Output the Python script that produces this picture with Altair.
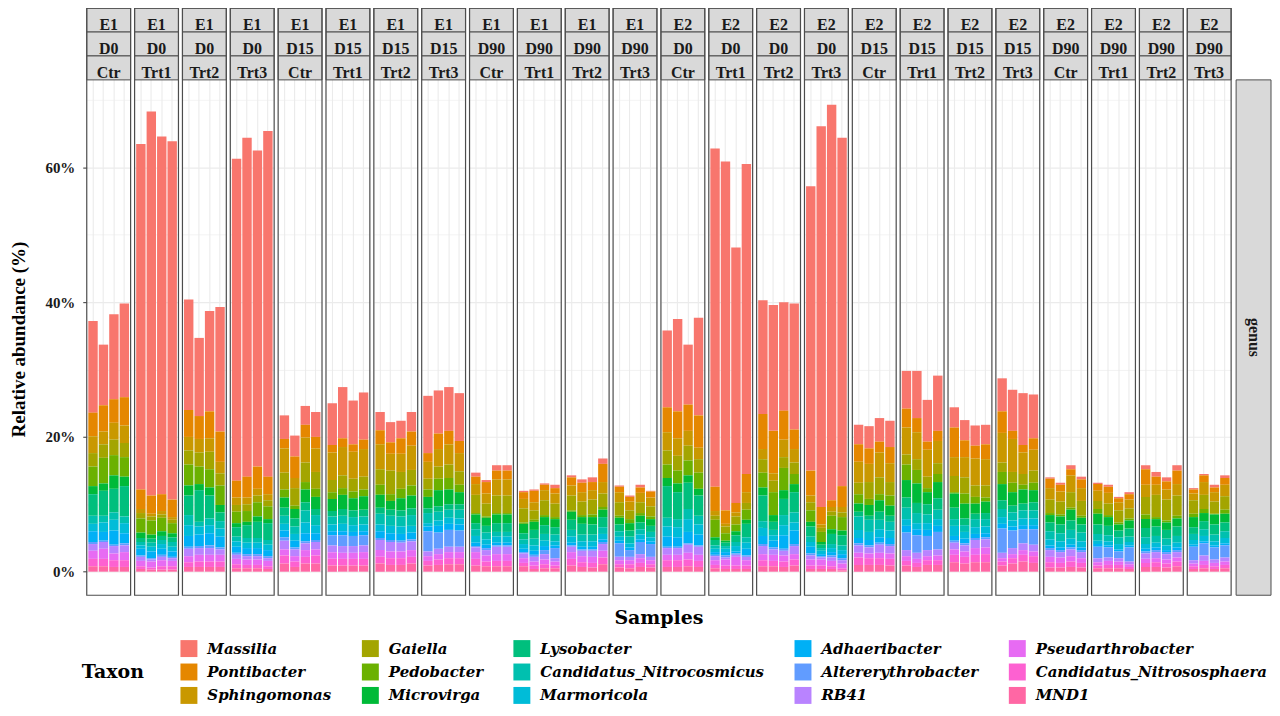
import altair as alt
import pandas as pd

taxa = ["Massilia", "Pontibacter", "Sphingomonas", "Gaiella", "Pedobacter", "Microvirga",
        "Lysobacter", "Candidatus_Nitrocosmicus", "Marmoricola", "Adhaeribacter",
        "Altererythrobacter", "RB41", "Pseudarthrobacter", "Candidatus_Nitrososphaera", "MND1"]
colors = ["#F8766D", "#E58700", "#C99800", "#A3A500", "#6BB100", "#00BA38", "#00BF7D", "#00C0AF",
          "#00BCD8", "#00B0F6", "#619CFF", "#B983FF", "#E76BF3", "#FD61D1", "#FF67A4"]

experiments = ["E1"] * 12 + ["E2"] * 12
days = (["D0"] * 4 + ["D15"] * 4 + ["D90"] * 4) * 2
treatments = ["Ctr", "Trt1", "Trt2", "Trt3"] * 6

# values in %, 24 panels x 4 samples (panel order E1 D0 Ctr ... E2 D90 Trt3)
massilia = [13.6, 9.0, 12.6, 13.9, 51.3, 57.0, 53.1, 53.2, 16.4, 11.6, 14.9, 18.5, 47.8, 50.3, 46.9, 51.3,
            3.5, 3.1, 2.8, 3.7, 6.2, 7.6, 6.5, 7.0, 2.7, 3.0, 2.6, 2.9, 8.5, 6.4, 6.5, 7.1,
            0.6, 0.3, 0.8, 0.8, 0.2, 0.2, 0.2, 0.5, 0.3, 0.5, 0.7, 0.8, 0.2, 0.2, 0.4, 0.1,
            11.4, 13.7, 8.9, 14.5, 50.2, 51.8, 37.9, 46.0, 16.9, 18.7, 16.1, 18.7, 42.2, 56.5, 58.7, 51.7,
            2.9, 3.3, 3.5, 3.9, 5.6, 7.0, 6.2, 8.2, 3.0, 3.0, 3.0, 2.9, 4.9, 6.1, 7.7, 6.5,
            0.2, 0.3, 0.6, 0.4, 0.2, 0.3, 0.2, 0.3, 0.6, 0.7, 0.6, 0.8, 0.2, 0.2, 0.4, 0.4]
pontibacter = [3.5, 3.9, 3.5, 4.2, 2.9, 2.7, 2.5, 2.6, 4.0, 3.4, 4.0, 4.5, 2.5, 3.1, 3.3, 2.6,
               1.4, 3.2, 1.9, 1.7, 1.1, 1.3, 1.1, 1.4, 2.1, 1.7, 2.3, 2.1, 1.3, 2.3, 2.0, 1.8,
               1.1, 1.7, 1.3, 1.3, 1.0, 1.7, 0.8, 0.8, 1.2, 1.4, 1.2, 2.7, 0.8, 0.7, 0.8, 0.9,
               3.7, 4.0, 3.9, 4.8, 3.6, 2.0, 1.4, 2.7, 5.2, 6.3, 4.3, 2.9, 3.7, 2.6, 1.0, 3.1,
               2.6, 2.3, 1.6, 2.4, 2.8, 2.1, 1.2, 1.5, 4.4, 2.5, 1.9, 2.2, 3.2, 1.2, 1.1, 1.7,
               1.4, 1.0, 0.9, 1.3, 1.0, 0.9, 0.6, 0.8, 2.3, 1.2, 1.2, 2.0, 0.6, 1.0, 0.7, 1.0]
sphingomonas = [2.5, 1.9, 2.5, 2.6, 0.6, 0.4, 0.5, 0.4, 2.0, 2.0, 2.0, 1.7, 1.1, 1.0, 1.0, 0.9,
                3.6, 1.5, 3.7, 3.5, 4.1, 4.2, 4.0, 4.1, 3.7, 2.5, 2.7, 3.6, 2.5, 2.6, 3.0, 2.7,
                1.6, 1.5, 2.4, 2.4, 1.4, 1.2, 1.5, 1.5, 1.5, 1.4, 1.4, 1.7, 1.5, 1.3, 1.4, 1.3,
                2.7, 2.6, 2.2, 1.7, 0.7, 0.4, 0.6, 1.6, 1.5, 1.1, 2.6, 2.0, 1.0, 0.5, 0.7, 0.8,
                3.1, 2.7, 3.7, 2.8, 4.0, 4.0, 4.0, 3.3, 2.8, 3.0, 4.0, 3.9, 4.4, 4.9, 3.2, 3.1,
                1.7, 1.5, 2.5, 1.9, 1.5, 1.6, 1.2, 1.3, 1.8, 1.5, 1.5, 1.7, 1.0, 1.9, 1.4, 1.7]
gaiella = [2.0, 2.0, 2.3, 2.1, 0.8, 0.6, 0.5, 0.5, 2.1, 2.1, 2.6, 1.8, 1.0, 1.0, 1.0, 0.9,
           2.5, 2.6, 2.9, 2.5, 1.8, 1.9, 1.9, 1.9, 2.3, 3.5, 2.5, 2.3, 1.6, 1.8, 2.0, 2.0,
           2.7, 1.9, 2.6, 2.6, 2.1, 1.4, 2.2, 2.0, 2.2, 2.0, 2.2, 2.0, 2.0, 1.3, 1.6, 1.5,
           2.1, 2.2, 2.2, 2.0, 0.6, 1.0, 1.2, 1.0, 2.0, 1.7, 1.6, 1.7, 1.2, 0.6, 0.6, 0.7,
           1.7, 2.5, 2.5, 2.0, 1.5, 1.6, 1.7, 1.6, 2.4, 2.4, 1.7, 1.8, 1.4, 1.6, 1.6, 1.8,
           2.0, 1.9, 2.3, 2.2, 1.2, 1.7, 1.8, 1.5, 2.6, 3.3, 3.1, 3.0, 2.0, 2.1, 1.8, 2.0]
pedobacter = [2.9, 3.8, 3.0, 2.9, 2.1, 2.1, 2.0, 1.5, 3.1, 2.6, 2.7, 2.9, 1.7, 1.6, 2.1, 1.9,
              1.2, 0.5, 1.1, 1.2, 1.0, 1.0, 1.0, 1.0, 1.5, 1.0, 1.4, 1.5, 1.1, 1.7, 1.7, 1.1,
              0.2, 0.2, 0.2, 0.2, 0.2, 0.3, 0.3, 0.3, 0.2, 0.3, 0.4, 0.4, 0.3, 0.6, 0.4, 0.4,
              2.0, 1.9, 2.2, 2.4, 2.6, 1.1, 1.0, 1.5, 2.2, 3.4, 3.3, 1.5, 1.7, 1.5, 2.0, 2.0,
              1.4, 0.9, 0.9, 1.5, 2.3, 2.0, 0.6, 1.2, 0.2, 1.5, 1.0, 0.6, 1.8, 1.4, 0.7, 1.1,
              0.3, 0.3, 0.3, 0.3, 0.7, 0.3, 0.3, 0.3, 0.7, 0.3, 0.3, 0.4, 0.5, 0.6, 0.1, 0.6]
microvirga = [1.2, 1.1, 2.0, 1.4, 0.8, 0.6, 0.7, 0.6, 1.5, 0.9, 1.2, 1.1, 0.6, 0.5, 0.8, 0.6,
              1.5, 1.4, 1.9, 1.8, 1.8, 2.1, 1.8, 2.0, 1.9, 1.3, 1.8, 1.9, 1.7, 2.4, 2.2, 1.8,
              1.3, 1.2, 1.3, 1.3, 1.4, 1.2, 1.2, 1.2, 1.2, 1.0, 1.1, 1.1, 1.0, 1.1, 1.0, 1.0,
              1.2, 1.3, 1.1, 1.0, 0.4, 0.3, 0.6, 0.6, 1.2, 1.0, 1.3, 1.2, 0.7, 0.4, 0.7, 0.7,
              1.2, 1.6, 1.7, 1.5, 2.6, 2.9, 1.8, 2.4, 2.1, 2.2, 1.5, 1.7, 2.4, 2.0, 2.1, 1.8,
              1.1, 1.2, 1.6, 1.0, 1.6, 1.3, 0.9, 1.2, 1.3, 1.1, 1.1, 1.2, 1.5, 1.2, 1.5, 1.3]
lysobacter = [3.2, 3.7, 3.5, 4.5, 0.6, 0.6, 0.6, 0.7, 2.9, 4.7, 3.4, 1.3, 1.4, 1.9, 2.4, 2.5,
              1.2, 1.2, 1.2, 0.9, 0.8, 1.0, 1.0, 1.0, 0.9, 0.9, 0.9, 1.0, 0.7, 0.8, 0.8, 0.8,
              0.9, 1.0, 1.3, 1.3, 0.9, 1.3, 1.3, 1.1, 1.5, 1.6, 1.5, 1.5, 1.0, 0.9, 1.0, 0.9,
              4.7, 4.0, 3.9, 3.0, 0.8, 0.5, 1.0, 2.0, 3.8, 1.2, 2.4, 3.0, 1.5, 0.5, 1.5, 1.5,
              0.7, 0.6, 1.2, 0.9, 1.5, 1.5, 1.5, 1.7, 1.7, 1.0, 0.8, 0.9, 1.3, 1.0, 1.0, 1.2,
              1.3, 1.3, 1.4, 1.2, 1.4, 1.4, 1.0, 1.2, 1.4, 1.4, 1.3, 1.4, 1.0, 1.2, 1.5, 1.3]
nitrocosmicus = [1.2, 1.0, 1.1, 1.0, 0.5, 0.6, 0.6, 0.7, 1.5, 0.7, 1.0, 1.1, 0.7, 0.7, 0.7, 0.7,
                 1.2, 1.1, 1.8, 1.5, 1.2, 1.2, 1.2, 1.2, 1.6, 1.5, 1.5, 1.6, 1.5, 1.3, 1.2, 1.3,
                 1.0, 1.0, 0.7, 0.7, 0.7, 1.0, 1.0, 1.0, 1.0, 1.0, 1.0, 1.0, 0.8, 1.0, 0.8, 0.8,
                 1.3, 1.2, 1.5, 1.3, 0.5, 0.4, 0.6, 0.8, 1.0, 0.8, 1.5, 1.5, 0.8, 0.4, 0.6, 0.7,
                 2.0, 1.8, 1.4, 1.3, 1.7, 1.5, 1.3, 1.4, 1.0, 1.0, 1.2, 1.1, 1.2, 1.2, 1.2, 1.2,
                 1.2, 1.2, 1.3, 1.3, 1.0, 0.9, 1.0, 0.8, 1.0, 1.0, 1.0, 1.0, 0.9, 1.0, 1.0, 1.0]
marmoricola = [1.1, 1.4, 1.6, 1.5, 0.5, 0.7, 0.7, 0.7, 1.6, 1.2, 1.2, 1.2, 0.8, 0.8, 0.8, 0.8,
               1.0, 1.0, 1.6, 1.2, 1.0, 1.1, 1.0, 1.0, 1.0, 1.1, 1.1, 1.0, 0.5, 0.8, 0.9, 0.9,
               1.0, 0.8, 0.9, 0.9, 0.7, 0.8, 0.8, 0.6, 0.9, 0.8, 0.8, 0.8, 0.6, 0.6, 0.7, 0.6,
               1.5, 1.5, 1.9, 1.5, 0.5, 0.5, 0.8, 0.9, 1.2, 0.8, 1.5, 1.2, 0.7, 0.5, 0.6, 0.6,
               1.2, 1.2, 1.2, 1.1, 1.0, 0.9, 1.0, 1.0, 1.5, 1.0, 1.0, 1.0, 1.0, 0.9, 1.0, 1.0,
               0.9, 0.9, 0.9, 0.9, 0.5, 0.6, 0.8, 0.5, 0.7, 0.7, 0.7, 0.7, 0.7, 0.8, 0.6, 0.8]
adhaeribacter = [1.6, 1.3, 2.1, 1.5, 1.0, 1.0, 0.9, 0.8, 1.6, 1.7, 1.8, 1.6, 0.9, 0.9, 0.9, 0.9,
                 1.0, 1.0, 1.2, 1.0, 0.6, 0.6, 0.6, 0.6, 1.0, 1.0, 1.0, 1.0, 0.7, 1.0, 0.9, 0.9,
                 0.5, 0.5, 0.4, 0.4, 0.5, 0.6, 0.6, 0.4, 0.4, 0.4, 0.4, 0.4, 0.4, 0.4, 0.4, 0.4,
                 1.5, 1.4, 1.7, 1.6, 0.4, 0.5, 0.3, 1.0, 1.2, 1.0, 2.0, 2.0, 1.0, 0.3, 0.5, 0.6,
                 0.8, 0.8, 0.8, 0.9, 1.0, 0.9, 0.9, 0.9, 0.7, 0.7, 0.6, 0.6, 0.7, 0.6, 0.6, 0.6,
                 0.4, 0.4, 0.4, 0.4, 0.4, 0.3, 0.3, 0.3, 0.4, 0.4, 0.3, 0.4, 0.3, 0.3, 0.3, 0.3]
altererythrobacter = [0.3, 0.2, 0.2, 0.3, 0.2, 0.2, 0.3, 0.2, 0.3, 0.3, 0.4, 0.3, 0.3, 0.3, 0.3, 0.3,
                      0.5, 0.3, 0.3, 0.3, 1.5, 1.6, 1.5, 1.5, 0.3, 0.3, 0.3, 0.3, 3.0, 2.4, 2.5, 2.4,
                      0.2, 0.3, 0.2, 0.2, 0.2, 0.3, 0.6, 1.5, 0.2, 0.2, 0.2, 0.3, 2.0, 1.0, 1.8, 1.9,
                      0.2, 0.2, 0.2, 0.2, 0.2, 0.3, 0.2, 0.2, 0.3, 0.3, 0.3, 0.3, 0.3, 0.2, 0.3, 0.3,
                      0.3, 0.3, 0.3, 0.3, 2.6, 2.6, 2.1, 2.6, 0.3, 0.3, 0.3, 0.3, 3.6, 2.6, 2.1, 2.3,
                      0.3, 0.3, 0.3, 0.3, 1.7, 1.5, 1.0, 2.1, 0.3, 0.3, 0.3, 0.3, 2.0, 1.8, 1.8, 1.8]
rb41 = [1.0, 1.0, 1.1, 1.0, 0.6, 0.3, 0.5, 0.4, 1.1, 1.0, 1.0, 0.8, 0.6, 0.5, 0.5, 0.4,
        1.3, 1.0, 1.0, 1.1, 1.0, 1.0, 1.0, 1.0, 1.5, 1.4, 1.3, 1.3, 0.7, 0.8, 0.8, 0.8,
        0.7, 0.8, 1.1, 1.1, 0.7, 0.7, 0.8, 0.5, 0.8, 0.8, 0.9, 1.0, 0.5, 0.5, 0.6, 0.5,
        1.0, 1.0, 1.2, 1.2, 0.6, 0.3, 0.3, 0.5, 1.2, 0.8, 0.7, 1.2, 0.6, 0.3, 0.5, 0.5,
        1.1, 0.9, 1.2, 1.1, 0.9, 0.9, 0.9, 0.9, 1.0, 0.9, 1.2, 1.2, 0.8, 0.9, 1.0, 1.0,
        1.0, 0.8, 1.0, 0.9, 0.6, 0.5, 0.5, 0.4, 0.8, 0.9, 0.8, 0.8, 0.5, 0.8, 0.5, 0.6]
pseudarthrobacter = [1.2, 1.5, 1.0, 1.2, 0.8, 0.9, 0.9, 0.8, 0.9, 1.0, 1.0, 1.0, 0.8, 0.8, 0.8, 0.8,
                     0.9, 0.8, 1.0, 0.9, 1.0, 0.9, 0.9, 1.0, 1.0, 1.0, 1.0, 1.0, 0.7, 0.8, 0.9, 0.9,
                     1.0, 0.9, 1.0, 1.0, 0.7, 0.6, 0.7, 0.6, 1.0, 0.9, 0.9, 1.0, 0.6, 0.6, 0.7, 0.6,
                     0.8, 0.8, 1.0, 0.9, 0.7, 0.9, 1.3, 0.8, 0.9, 0.9, 0.9, 0.8, 0.9, 0.9, 0.8, 0.7,
                     0.7, 0.7, 0.8, 0.8, 0.7, 0.6, 0.6, 0.7, 0.8, 0.8, 1.0, 1.0, 0.5, 0.6, 0.7, 0.7,
                     0.8, 0.8, 0.8, 0.7, 0.5, 0.6, 0.5, 0.4, 0.6, 0.6, 0.6, 0.6, 0.4, 0.6, 0.5, 0.5]
nitrososphaera = [1.1, 1.1, 1.0, 1.0, 0.4, 0.3, 0.5, 0.5, 0.7, 0.8, 0.8, 0.8, 0.6, 0.5, 0.5, 0.4,
                  1.2, 0.8, 1.0, 1.2, 1.0, 1.0, 1.0, 1.0, 1.0, 1.0, 1.0, 1.0, 0.7, 0.8, 0.9, 0.9,
                  1.0, 0.7, 0.8, 0.8, 0.5, 0.5, 0.6, 0.4, 1.0, 0.7, 0.7, 1.0, 0.5, 0.6, 0.6, 0.5,
                  1.0, 1.0, 1.0, 0.9, 0.5, 0.5, 0.5, 0.5, 0.9, 0.8, 0.8, 0.9, 0.5, 0.5, 0.4, 0.3,
                  1.1, 1.0, 1.0, 1.0, 0.7, 0.6, 0.7, 0.7, 1.1, 1.0, 1.1, 1.2, 0.6, 0.8, 1.0, 1.0,
                  0.8, 0.7, 0.8, 0.7, 0.4, 0.5, 0.5, 0.3, 0.6, 0.7, 0.6, 0.7, 0.4, 0.5, 0.4, 0.5]
mnd1 = [0.8, 0.8, 0.7, 0.7, 0.4, 0.3, 0.3, 0.3, 0.7, 0.7, 0.7, 0.7, 0.5, 0.5, 0.5, 0.4,
        1.2, 0.7, 1.2, 1.2, 0.9, 0.9, 0.9, 0.9, 1.2, 1.0, 1.0, 1.2, 0.9, 1.0, 1.1, 1.1,
        0.9, 0.8, 0.8, 0.8, 0.8, 0.4, 0.5, 0.5, 0.9, 0.7, 0.6, 1.1, 0.6, 0.5, 0.7, 0.6,
        0.7, 0.7, 0.8, 0.7, 0.5, 0.4, 0.4, 0.4, 0.8, 0.8, 0.7, 0.9, 0.4, 0.4, 0.4, 0.2,
        1.0, 1.0, 1.0, 0.9, 0.9, 0.7, 1.0, 1.0, 1.4, 1.2, 1.4, 1.4, 0.9, 1.2, 1.5, 1.3,
        0.6, 0.6, 0.7, 0.6, 0.5, 0.5, 0.5, 0.4, 0.7, 0.7, 0.6, 0.8, 0.4, 0.5, 0.4, 0.5]

series = [massilia, pontibacter, sphingomonas, gaiella, pedobacter, microvirga, lysobacter,
          nitrocosmicus, marmoricola, adhaeribacter, altererythrobacter, rb41,
          pseudarthrobacter, nitrososphaera, mnd1]

x_title = "Samples"

rows = []
panel_ids = []
for p in range(24):
    pid = f"{p:02d}"
    panel_ids.append(pid)
    for b in range(4):
        for t, name in enumerate(taxa):
            rows.append({"panel": pid, "E": experiments[p], "D": days[p], "T": treatments[p],
                         "bar": b + 1, "Taxon": name, "rank": t,
                         "value": series[t][p * 4 + b], "xtitle": x_title})
df = pd.DataFrame(rows)

FONT = "Liberation Serif"
WIDE = "DejaVu Serif"
W, H = 44, 589
BORDER = "#4D4D4D"
ONE_PER_PANEL = "datum.bar == 1 && datum.rank == 0"

bars = alt.Chart().mark_bar().encode(
    x=alt.X("bar:O",
            scale=alt.Scale(paddingInner=0.1, paddingOuter=0.15),
            axis=alt.Axis(title="", labels=False, ticks=False, domain=False, grid=True,
                          gridColor="#EBEBEB", gridWidth=1.1, bandPosition=0.5)),
    y=alt.Y("value:Q", stack="zero",
            scale=alt.Scale(domain=[-3.5, 73], range=[H, 72], nice=False, zero=False),
            axis=alt.Axis(title="Relative abundance (%)", values=[0, 10, 20, 30, 40, 50, 60, 70],
                          labelExpr="datum.value % 20 === 0 ? datum.value + '%' : ''",
                          domain=False, tickSize=4, tickColor="#333333",
                          tickOpacity={"condition": {"test": "datum.value % 20 === 0", "value": 1}, "value": 0},
                          gridColor="#EBEBEB",
                          gridWidth={"condition": {"test": "datum.value % 20 === 0", "value": 1.2}, "value": 0.6},
                          labelFont=FONT, labelFontSize=15, labelFontWeight="bold", labelColor="#1a1a1a",
                          labelPadding=8, titleFont=FONT, titleFontSize=19, titleFontWeight="bold",
                          titleColor="black", titlePadding=16, titleY=332)),
    color=alt.Color("Taxon:N",
                    scale=alt.Scale(domain=taxa, range=colors),
                    legend=alt.Legend(orient="none", legendX=-5, legendY=634, columns=5,
                                      title="Taxon", titleOrient="left", titleAnchor="middle",
                                      titleFont=WIDE, titleFontSize=19, titleFontWeight="bold",
                                      titleColor="black", titlePadding=36,
                                      labelFont=WIDE, labelFontSize=15, labelFontStyle="italic",
                                      labelFontWeight="bold", labelColor="black", labelLimit=400,
                                      symbolType="square", symbolSize=289, symbolStrokeWidth=0,
                                      symbolOpacity=1, rowPadding=6.5, columnPadding=30,
                                      labelOffset=10)),
    order=alt.Order("rank:Q", sort="descending"),
)

layers = [bars]
for field, y0 in (("E", 0), ("D", 24), ("T", 48)):
    base = alt.Chart().transform_filter(ONE_PER_PANEL)
    layers.append(base.mark_rect(fill="#D9D9D9", stroke=BORDER, strokeWidth=1).encode(
        x=alt.value(0), x2=alt.value(W), y=alt.value(y0), y2=alt.value(y0 + 24)))
    layers.append(base.mark_text(font=FONT, fontSize=16, fontWeight="bold", color="#1a1a1a",
                                 align="center", baseline="alphabetic").encode(
        x=alt.value(W / 2), y=alt.value(y0 + 22), text=f"{field}:N"))
# panel border
layers.append(alt.Chart().transform_filter(ONE_PER_PANEL).mark_rect(
    fillOpacity=0, stroke=BORDER, strokeWidth=1.2).encode(
    x=alt.value(0), x2=alt.value(W), y=alt.value(0), y2=alt.value(H)))
# shared x title, written once below the middle of the panel row
layers.append(alt.Chart().transform_filter(ONE_PER_PANEL + " && datum.panel == '11'").mark_text(
    font=WIDE, fontSize=19, fontWeight="bold", color="black", align="center", baseline="middle").encode(
    x=alt.value(W + 2), y=alt.value(H + 23), text="xtitle:N"))

panels = alt.layer(*layers, data=df).properties(width=W, height=H).facet(
    column=alt.Column("panel:N", sort=panel_ids, title="",
                      header=alt.Header(labels=False, labelPadding=0, titlePadding=0)),
    spacing=4,
    bounds="flush",
)

genus_df = pd.DataFrame({"strip": ["genus"]})
genus_base = alt.Chart(genus_df)
GW = 35
genus = alt.layer(
    genus_base.mark_rect(fill="#D9D9D9", stroke=BORDER, strokeWidth=1).encode(
        x=alt.value(0), x2=alt.value(GW), y=alt.value(72), y2=alt.value(H)),
    genus_base.mark_text(font=FONT, fontSize=16, fontWeight="bold", color="#1a1a1a", angle=90,
                         align="center", baseline="middle").encode(
        x=alt.value(GW / 2), y=alt.value((72 + H) / 2), text="strip:N"),
).properties(width=GW, height=H)

chart = alt.hconcat(panels, genus, spacing=2).properties(
    padding={"left": 2, "top": -3, "right": 0, "bottom": 0}
).configure(background="white").configure_view(stroke="transparent")

chart.save("out.html", embed_options={"renderer": "svg", "actions": False})
